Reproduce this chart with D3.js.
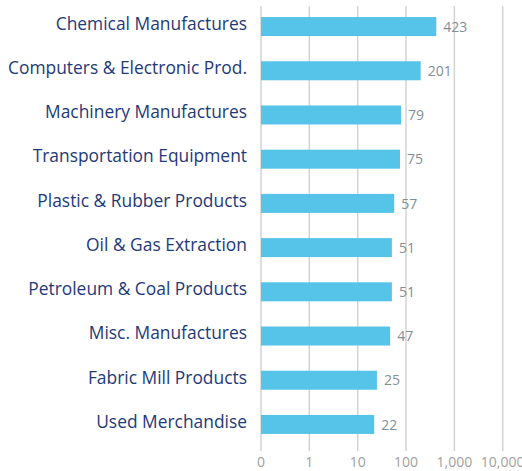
<!DOCTYPE html>
<html>
<head>
<meta charset="utf-8">
<script src="https://cdn.jsdelivr.net/npm/d3@7"></script>
<style>
  html, body { margin: 0; padding: 0; background: #fff; }
  svg { display: block; }
</style>
</head>
<body>
<svg id="chart" width="522" height="471"></svg>
<script>
// Industries and their counts, top to bottom
const categories = [
  "Chemical Manufactures",
  "Computers & Electronic Prod.",
  "Machinery Manufactures",
  "Transportation Equipment",
  "Plastic & Rubber Products",
  "Oil & Gas Extraction",
  "Petroleum & Coal Products",
  "Misc. Manufactures",
  "Fabric Mill Products",
  "Used Merchandise"
];
const values = [423, 201, 79, 75, 57, 51, 51, 47, 25, 22];
// Axis ticks: the first tick is the log-scale floor, shown as "0"
const tickValues = [0.1, 1, 10, 100, 1000, 10000];
const tickLabels = ["0", "1", "10", "100", "1,000", "10,000"];

const svg = d3.select("#chart");
const font = "'Open Sans', sans-serif";

const x = d3.scaleLog().domain([0.1, 10000]).range([261, 502.7]);
const y = d3.scaleBand().domain(categories).range([6, 445]).paddingInner(0.57).paddingOuter(0.25);

// vertical gridlines
svg.append("g")
  .selectAll("line")
  .data(tickValues)
  .join("line")
  .attr("x1", d => x(d)).attr("x2", d => x(d))
  .attr("y1", 6).attr("y2", 451)
  .attr("stroke", "#d3d3d3")
  .attr("stroke-width", 1.5);

// tick labels
svg.append("g")
  .selectAll("text")
  .data(tickValues)
  .join("text")
  .attr("x", d => x(d))
  .attr("y", 467)
  .attr("text-anchor", "middle")
  .attr("font-family", font)
  .attr("font-size", 14)
  .attr("fill", "#a0a0a0")
  .text((d, i) => tickLabels[i]);

// bars
svg.append("g")
  .selectAll("rect")
  .data(values)
  .join("rect")
  .attr("x", x(0.1))
  .attr("y", (d, i) => y(categories[i]))
  .attr("width", d => x(d) - x(0.1))
  .attr("height", y.bandwidth())
  .attr("fill", "#55c4e8");

// value labels
svg.append("g")
  .selectAll("text")
  .data(values)
  .join("text")
  .attr("x", d => x(d) + 7)
  .attr("y", (d, i) => y(categories[i]) + y.bandwidth() / 2)
  .attr("dy", "0.37em")
  .attr("font-family", font)
  .attr("font-size", 14)
  .attr("fill", "#7f9097")
  .text(d => d3.format(",")(d));

// category labels
svg.append("g")
  .selectAll("text")
  .data(categories)
  .join("text")
  .attr("x", 247)
  .attr("y", d => y(d) + y.bandwidth() / 2)
  .attr("dy", "0.19em")
  .attr("text-anchor", "end")
  .attr("font-family", font)
  .attr("font-size", 17.4)
  .attr("fill", "#1e3a78")
  .text(d => d);
</script>
</body>
</html>
